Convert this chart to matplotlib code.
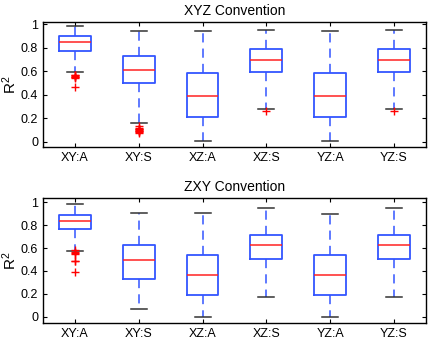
import matplotlib
matplotlib.use("Agg")
import matplotlib.pyplot as plt

labels = ["XY:A", "XY:S", "XZ:A", "XZ:S", "YZ:A", "YZ:S"]

# XYZ convention (top)
xyz_whislo = [0.594, 0.157, 0.006, 0.281, 0.006, 0.281]
xyz_q1 = [0.773, 0.503, 0.210, 0.594, 0.209, 0.594]
xyz_med = [0.847, 0.613, 0.387, 0.696, 0.387, 0.696]
xyz_q3 = [0.900, 0.733, 0.585, 0.792, 0.585, 0.792]
xyz_whishi = [0.985, 0.943, 0.943, 0.952, 0.943, 0.952]
xyz_fliers = [
    [0.57, 0.565, 0.56, 0.555, 0.55, 0.545, 0.47],
    [0.13, 0.12, 0.11, 0.105, 0.10, 0.095, 0.09, 0.08, 0.075],
    [],
    [0.265],
    [],
    [0.265],
]

# ZXY convention (bottom)
zxy_whislo = [0.577, 0.070, 0.000, 0.175, 0.000, 0.175]
zxy_q1 = [0.764, 0.332, 0.190, 0.501, 0.190, 0.501]
zxy_med = [0.840, 0.499, 0.362, 0.624, 0.362, 0.624]
zxy_q3 = [0.886, 0.630, 0.536, 0.717, 0.536, 0.717]
zxy_whishi = [0.983, 0.910, 0.904, 0.948, 0.900, 0.948]
zxy_fliers = [
    [0.585, 0.57, 0.56, 0.545, 0.49, 0.485, 0.394],
    [],
    [],
    [],
    [],
    [],
]


def make_stats(whislo, q1, med, q3, whishi, fliers):
    stats = []
    for i in range(len(labels)):
        stats.append({"whislo": whislo[i], "q1": q1[i], "med": med[i],
                      "q3": q3[i], "whishi": whishi[i], "fliers": fliers[i],
                      "label": labels[i]})
    return stats


def draw(ax, stats, title, ylim):
    blue = "#3355ff"
    ax.bxp(stats, widths=0.5, showfliers=True,
           boxprops=dict(color=blue, linewidth=1.3),
           medianprops=dict(color="#ff2222", linewidth=1.1),
           whiskerprops=dict(color=blue, linewidth=1.1, linestyle=(0, (6, 4))),
           capprops=dict(color="#333333", linewidth=1.1),
           flierprops=dict(marker="+", markeredgecolor="red", markersize=6,
                           markeredgewidth=1.0, linestyle="none"))
    ax.set_xlim(0.5, 6.5)
    ax.set_ylim(*ylim)
    ax.set_yticks([0, 0.2, 0.4, 0.6, 0.8, 1])
    ax.set_yticklabels(["0", "0.2", "0.4", "0.6", "0.8", "1"])
    ax.set_title(title, fontsize=10, pad=5)
    ax.set_ylabel("R$^2$", fontsize=11)
    ax.yaxis.set_label_coords(-0.062, 0.5)
    ax.tick_params(direction="in", top=True, right=True, labelsize=9, length=3)
    for s in ax.spines.values():
        s.set_linewidth(1.0)


plt.rcParams["font.family"] = ["Liberation Sans", "DejaVu Sans"]
plt.rcParams["mathtext.fontset"] = "custom"
plt.rcParams["mathtext.rm"] = "Liberation Sans"
plt.rcParams["mathtext.it"] = "Liberation Sans"

fig = plt.figure(figsize=(4.28, 3.40), dpi=100)
ax1 = fig.add_axes([0.1005, 0.5676, 0.8945, 0.3674])
ax2 = fig.add_axes([0.1005, 0.0509, 0.8945, 0.3667])

draw(ax1, make_stats(xyz_whislo, xyz_q1, xyz_med, xyz_q3, xyz_whishi, xyz_fliers),
     "XYZ Convention", (-0.045, 1.02))
draw(ax2, make_stats(zxy_whislo, zxy_q1, zxy_med, zxy_q3, zxy_whishi, zxy_fliers),
     "ZXY Convention", (-0.052, 1.038))

# shorten caps to half the box width
for ax in (ax1, ax2):
    for line in ax.lines:
        xd = line.get_xdata()
        if len(xd) == 2 and line.get_color() == "#333333":
            c = (xd[0] + xd[1]) / 2
            line.set_xdata([c - 0.125, c + 0.125])

fig.savefig("out.png", dpi=100)
